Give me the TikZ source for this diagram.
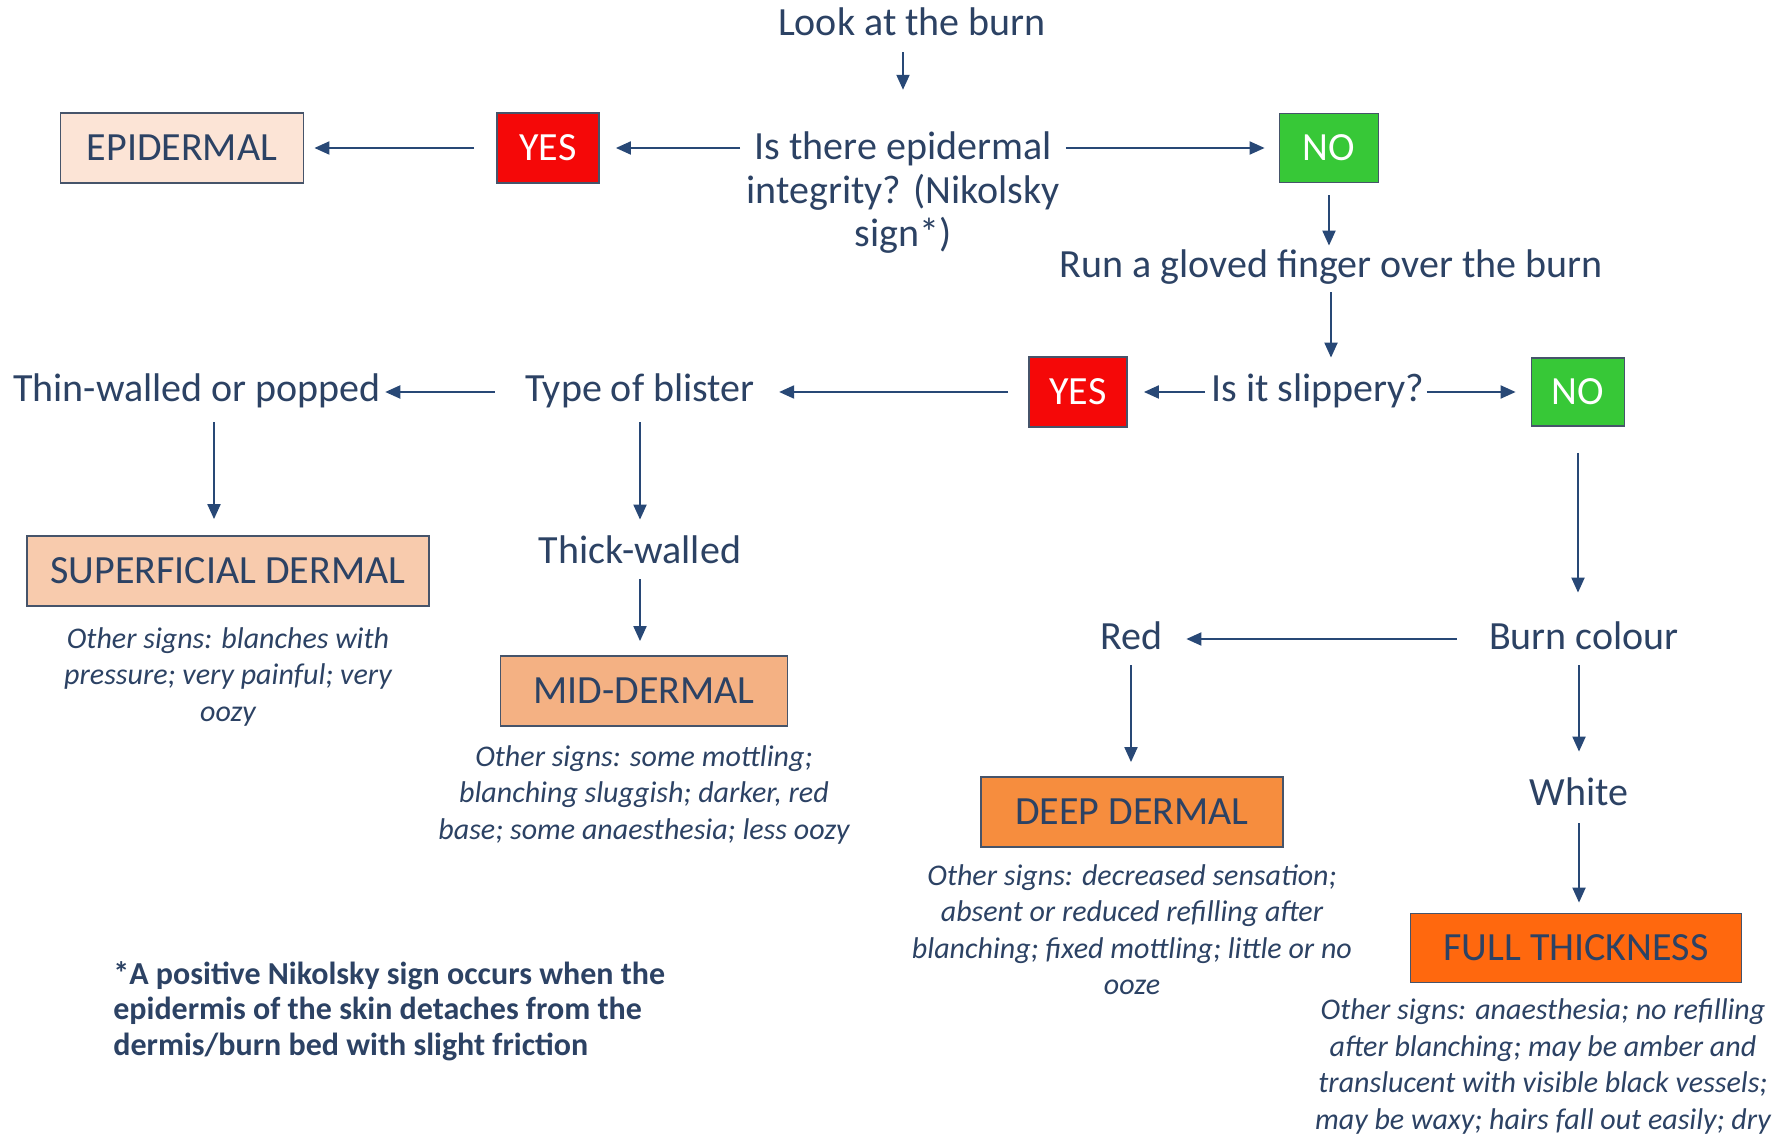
\documentclass[tikz,border=0pt]{standalone}
\usepackage{fontspec}
\setmainfont{Carlito}
\usetikzlibrary{arrows.meta, positioning}

\definecolor{ink}{RGB}{44,66,100}
\definecolor{arrowblue}{RGB}{40,72,118}
\definecolor{edge}{RGB}{70,84,106}
\definecolor{peachA}{RGB}{252,228,214}
\definecolor{peachB}{RGB}{248,203,173}
\definecolor{peachC}{RGB}{244,177,131}
\definecolor{orangeA}{RGB}{246,141,62}
\definecolor{orangeB}{RGB}{255,104,14}
\definecolor{yesred}{RGB}{245,8,8}
\definecolor{nogreen}{RGB}{55,200,55}

\begin{document}
\begin{tikzpicture}
  [x=0.5pt, y=-0.5pt,
  say/.style={text=ink, font=\fontsize{20}{24}\selectfont, inner sep=0pt,
  text height=14pt, text depth=4pt},
  ask/.style={text=ink, font=\fontsize{20}{21.75}\selectfont, inner sep=0pt,
  inner xsep=3pt, align=center},
  block/.style={rectangle, draw=edge, line width=0.9pt, inner sep=0pt,
  text=ink, font=\fontsize{20}{24}\selectfont, minimum height=35pt},
  answer/.style={block, text=white},
  signs/.style={text=ink, align=center, inner sep=0pt,
  font=\fontsize{15}{18.25}\selectfont\itshape},
  line/.style={draw=arrowblue, line width=1pt,
  -{Triangle[length=7.5pt,width=6.5pt]}}]

  \useasboundingbox [fill=white] (0,0) rectangle (1772,1138);

  % questions and answers
  \node [say] (look) at (912,26) {Look at the burn};
  \node [ask] (integrity) at (903,193) {Is there epidermal\\integrity? (Nikolsky\\sign*)};
  \node [answer, fill=yesred, minimum width=51pt] (yesA) at (548,148) {YES};
  \node [answer, fill=nogreen, minimum width=49.5pt, minimum height=34.5pt] (noA) at (1329,148) {NO};
  \node [block, fill=peachA, minimum width=121.5pt] (epidermal) at (182,148) {EPIDERMAL};
  \node [say] (gloved) at (1331,268) {Run a gloved finger over the burn};
  \node [say] (slippery) at (1318,392) {Is it slippery?};
  \node [answer, fill=yesred, minimum width=49pt] (yesB) at (1078,392) {YES};
  \node [answer, fill=nogreen, minimum width=46.5pt, minimum height=34pt] (noB) at (1578,392) {NO};
  \node [say] (blister) at (640,392) {Type of blister};
  \node [say] (thin) at (197,392) {Thin-walled or popped};
  \node [say] (thick) at (640,554) {Thick-walled};
  \node [say] (colour) at (1584,639) {Burn colour};
  \node [say] (red) at (1131,639) {Red};
  \node [say] (white) at (1579,795) {White};

  % depths
  \node [block, fill=peachB, minimum width=201pt] (superficial) at (228,571) {SUPERFICIAL DERMAL};
  \node [block, fill=peachC, minimum width=143.5pt] (mid) at (644,691) {MID-DERMAL};
  \node [block, fill=orangeA, minimum width=151pt] (deep) at (1132,812) {DEEP DERMAL};
  \node [block, fill=orangeB, minimum width=165.5pt, minimum height=34.5pt] (full) at (1576,948) {FULL THICKNESS};

  \node [signs, below=10pt of superficial] (supsigns) {Other signs: blanches with\\pressure; very painful; very\\oozy};
  \node [signs, below=9pt of mid] (midsigns) {Other signs: some mottling;\\blanching sluggish; darker, red\\base; some anaesthesia; less oozy};
  \node [signs, below=8pt of deep] (deepsigns) {Other signs: decreased sensation;\\absent or reduced refilling after\\blanching; fixed mottling; little or no\\ooze};
  \node [signs, below=7.5pt of full, xshift=-16.5pt] (fullsigns) {Other signs: anaesthesia; no refilling\\after blanching; may be amber and\\translucent with visible black vessels;\\may be waxy; hairs fall out easily; dry};

  \node [anchor=north west, text=ink, align=left, inner sep=0pt,
  font=\fontsize{16}{17.75}\selectfont\bfseries] (nikolsky) at (113,961)
  {*A positive Nikolsky sign occurs when the\\epidermis of the skin detaches from the\\dermis/burn bed with slight friction};

  \begin{scope}[every path/.style=line]
    \path [shorten <=4pt, shorten >=21pt] (look.south -| integrity) -- (integrity);
    \path [shorten >=8pt] (integrity.west |- yesA) -- (yesA);
    \path [shorten <=11pt, shorten >=5pt] (yesA) -- (epidermal);
    \path [shorten >=7pt] (integrity.east |- noA) -- (noA);
    \path [shorten <=6pt, shorten >=2pt] (noA) -- (noA |- gloved.north);
    \path [shorten <=3pt, shorten >=8pt] (gloved) -- (gloved |- slippery.north);
    \path [shorten <=3pt, shorten >=8pt] (slippery) -- (yesB);
    \path [shorten <=1pt, shorten >=7.5pt] (slippery) -- (noB);
    \path [shorten <=10pt, shorten >=12pt] (yesB) -- (blister);
    \path [shorten <=15pt, shorten >=2pt] (blister) -- (thin);
    \path [shorten <=6pt, shorten >=8pt] ([xshift=8.5pt]thin.south) -- ([xshift=8.5pt]thin.south |- superficial.north);
    \path [shorten <=6pt, shorten >=8pt] (blister) -- (thick);
    \path [shorten <=3.5pt, shorten >=7pt] (thick) -- (thick |- mid.north);
    \path [shorten <=13pt, shorten >=14pt] (noB) -- (noB |- colour.north);
    \path [shorten <=16pt, shorten >=12pt] (colour) -- (red);
    \path [shorten <=4pt, shorten >=7pt] (red) -- (red |- deep.north);
    \path [shorten <=4pt, shorten >=12.5pt] (colour.south -| white) -- (white);
    \path [shorten <=5pt, shorten >=5pt] (white) -- (white |- full.north);
  \end{scope}
\end{tikzpicture}
\end{document}
